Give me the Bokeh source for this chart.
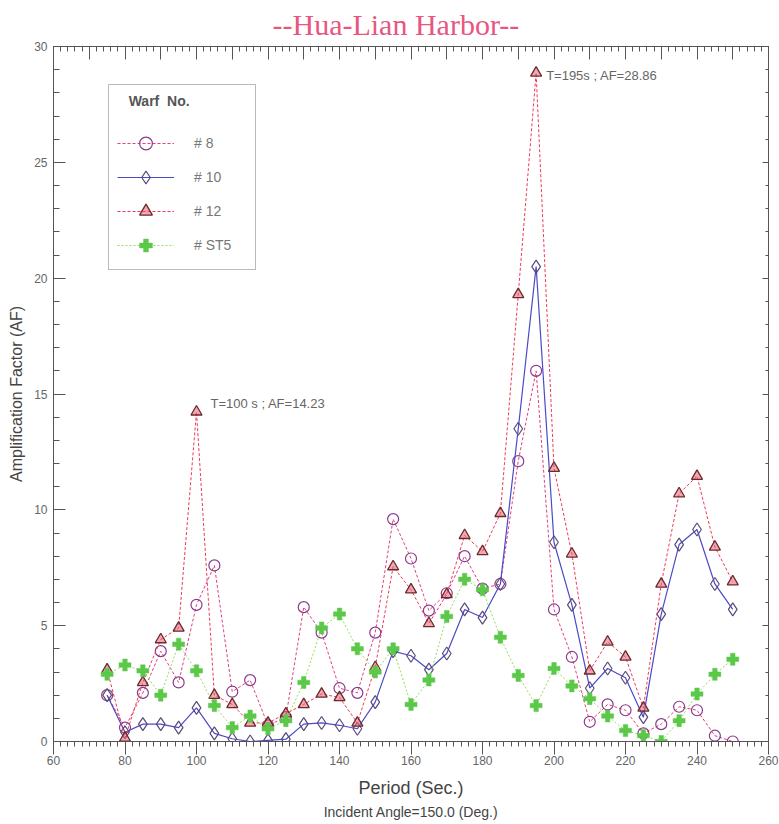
from bokeh.plotting import figure
from bokeh.models import Range1d, LinearAxis, FixedTicker, Legend, LegendItem, Label, Title
from bokeh.embed import file_html
from bokeh.resources import INLINE

# ---------------- data ----------------
periods = [75, 80, 85, 90, 95, 100, 105, 110, 115, 120, 125, 130, 135, 140, 145, 150,
           155, 160, 165, 170, 175, 180, 185, 190, 195, 200, 205, 210, 215, 220, 225,
           230, 235, 240, 245, 250]

af_8 = [2.0, 0.6, 2.1, 3.9, 2.55, 5.9, 7.6, 2.15, 2.65, 0.7, 1.05, 5.8, 4.7, 2.3, 2.1, 4.7,
        9.6, 7.9, 5.65, 6.4, 8.0, 6.6, 6.8, 12.1, 16.0, 5.7, 3.65, 0.85, 1.6, 1.35, 0.35,
        0.75, 1.5, 1.35, 0.25, 0.0]

af_10 = [2.0, 0.4, 0.75, 0.75, 0.6, 1.45, 0.35, 0.12, 0.0, 0.05, 0.1, 0.75, 0.8, 0.7, 0.55, 1.7,
         3.9, 3.7, 3.1, 3.8, 5.7, 5.35, 6.8, 13.5, 20.5, 8.6, 5.9, 2.3, 3.15, 2.75, 1.05,
         5.5, 8.5, 9.15, 6.8, 5.7]

af_12 = [3.1, 0.15, 2.55, 4.4, 4.9, 14.23, 2.0, 1.6, 0.8, 0.8, 1.2, 1.6, 2.05, 1.9, 0.8, 3.2,
         7.55, 6.55, 5.1, 6.35, 8.9, 8.2, 9.85, 19.3, 28.86, 11.8, 8.1, 3.05, 4.3, 3.65, 1.45,
         6.8, 10.7, 11.45, 8.4, 6.9]

af_st5 = [2.9, 3.3, 3.05, 2.0, 4.2, 3.05, 1.55, 0.6, 1.1, 0.55, 0.9, 2.55, 4.9, 5.5, 4.0, 3.0,
          4.0, 1.6, 2.65, 5.4, 7.0, 6.55, 4.5, 2.85, 1.55, 3.15, 2.4, 1.85, 1.1, 0.47, 0.26,
          0.0, 0.9, 2.05, 2.9, 3.55]

series_labels = ["# 8", "# 10", "# 12", "# ST5"]
x_label_ticks = [60, 80, 100, 120, 140, 160, 180, 200, 220, 240, 260]
x_mid_ticks = [70, 90, 110, 130, 150, 170, 190, 210, 230, 250]
y_label_ticks = [0, 5, 10, 15, 20, 25, 30]
ann_periods = [100, 195]
ann_texts = ["T=100 s ; AF=14.23", "T=195s ; AF=28.86"]

TITLE = "--Hua-Lian Harbor--"
SUBTITLE = "Incident Angle=150.0 (Deg.)"

# ---------------- figure ----------------
p = figure(width=779, height=824, x_range=Range1d(60, 260), y_range=Range1d(0, 30),
           output_backend="svg", toolbar_location=None,
           min_border_left=53, min_border_right=11, min_border_top=45, min_border_bottom=83,
           background_fill_color="white", border_fill_color="white")
p.xgrid.visible = False
p.ygrid.visible = False
p.outline_line_color = None

p.title.text = TITLE
p.title.text_font = "Liberation Serif"
p.title.text_font_size = "30px"
p.title.text_font_style = "normal"
p.title.text_color = "#e8567f"
p.title.text_line_height = 1.0
p.title.align = "left"
p.title.offset = 219
p.title.standoff = 11

AX = "#555555"
x_minor = list(range(60, 261, 2))
y_minor = list(range(0, 31, 1))
x_ticker = FixedTicker(ticks=x_label_ticks, minor_ticks=x_minor)
x_ticker_all = FixedTicker(ticks=x_label_ticks + x_mid_ticks, minor_ticks=x_minor)
y_ticker = FixedTicker(ticks=y_label_ticks, minor_ticks=y_minor)

xa = p.xaxis[0]
xa.ticker = x_ticker
xa.major_tick_in = 0
xa.major_tick_out = 13
xa.minor_tick_in = 0
xa.minor_tick_out = 5
xa.major_label_standoff = 1
xa.major_label_text_font = "Liberation Sans"
xa.major_label_text_font_size = "12px"
xa.major_label_text_color = "#666666"
xa.axis_label = "Period (Sec.)"
xa.axis_label_text_font = "Liberation Sans"
xa.axis_label_text_font_size = "18px"
xa.axis_label_text_font_style = "normal"
xa.axis_label_text_color = "#444444"
xa.axis_label_standoff = 10
xa.axis_line_color = AX
xa.major_tick_line_color = AX
xa.minor_tick_line_color = AX

# long ticks at the odd tens (no labels), drawn on the bottom edge
mid = LinearAxis(ticker=FixedTicker(ticks=x_mid_ticks, minor_ticks=[]), fixed_location=0,
                 major_tick_in=0, major_tick_out=13, axis_line_color=None,
                 major_tick_line_color=AX, minor_tick_line_color=None,
                 major_label_text_color=None)
p.add_layout(mid, "below")

ya = p.yaxis[0]
ya.ticker = y_ticker
ya.major_tick_in = 12
ya.major_tick_out = 0
ya.minor_tick_in = 6
ya.minor_tick_out = 0
ya.major_label_standoff = 6
ya.major_label_text_font = "Liberation Sans"
ya.major_label_text_font_size = "12px"
ya.major_label_text_color = "#666666"
ya.axis_label = "Amplification Factor (AF)"
ya.axis_label_text_font = "Liberation Sans"
ya.axis_label_text_font_size = "16px"
ya.axis_label_text_font_style = "normal"
ya.axis_label_text_color = "#444444"
ya.axis_label_standoff = 6
ya.axis_line_color = AX
ya.major_tick_line_color = AX
ya.minor_tick_line_color = AX

top = LinearAxis(ticker=x_ticker_all, major_tick_in=13, major_tick_out=0, minor_tick_in=5,
                 minor_tick_out=0, major_label_text_color=None,
                 axis_line_color=AX, major_tick_line_color=AX, minor_tick_line_color=AX)
p.add_layout(top, "above")
right = LinearAxis(ticker=y_ticker, major_tick_in=6, major_tick_out=0, minor_tick_in=3,
                   minor_tick_out=0, major_label_text_color=None,
                   axis_line_color=AX, major_tick_line_color=AX, minor_tick_line_color=AX)
p.add_layout(right, "right")

p.add_layout(Title(text=SUBTITLE, text_font="Liberation Sans", text_font_size="14px",
                   text_font_style="normal", text_color="#444444", align="center",
                   standoff=2), "below")

# ---------------- series ----------------
l8 = p.line(periods, af_8, line_color="#e0407f", line_width=1, line_dash="3 2")
s8 = p.scatter(periods, af_8, marker="circle", size=11, line_color="#8a3a8a",
               fill_color=None, line_width=1.2)

l10 = p.line(periods, af_10, line_color="#4a4ac8", line_width=1.2)
s10 = p.scatter(periods, af_10, marker="diamond", size=13, line_color="#5a4a7a",
                fill_color=None, line_width=1.2)

l12 = p.line(periods, af_12, line_color="#ee3a5a", line_width=1, line_dash="3 2")
s12 = p.scatter(periods, af_12, marker="triangle", size=11, line_color="#6b2b2b",
                fill_color="#e8506a", fill_alpha=0.5, line_width=1.3)

lst = p.line(periods, af_st5, line_color="#8ee05a", line_width=1, line_dash="2 2")
sst = p.scatter(periods, af_st5, marker="plus", size=12, line_color="#5cc84a",
                fill_color="#5cc84a", line_width=0.5)

# ---------------- annotations ----------------
offsets = [(14, 8), (10, -3)]
for T, txt, (dx, dy) in zip(ann_periods, ann_texts, offsets):
    af = af_12[periods.index(T)]
    p.add_layout(Label(x=T, y=af, text=txt, x_offset=dx, y_offset=dy,
                       text_baseline="middle", text_font="Liberation Sans",
                       text_font_size="13px", text_color="#666666"))

# ---------------- legend ----------------
items = [LegendItem(label=series_labels[0], renderers=[l8, s8]),
         LegendItem(label=series_labels[1], renderers=[l10, s10]),
         LegendItem(label=series_labels[2], renderers=[l12, s12]),
         LegendItem(label=series_labels[3], renderers=[lst, sst])]
legend = Legend(items=items, location=(55, 471),
                title="\u00a0\u00a0\u00a0Warf\u00a0\u00a0No.",
                title_text_font="Liberation Sans", title_text_font_style="bold",
                title_text_font_size="14px", title_text_color="#555555", title_standoff=18,
                label_text_font="Liberation Sans", label_text_font_size="14px",
                label_text_color="#777777", glyph_width=57, glyph_height=32,
                label_standoff=20, label_width=53, spacing=2, padding=8, margin=0,
                border_line_color="#777777", border_line_width=1.5,
                background_fill_color="white", background_fill_alpha=1.0)
p.add_layout(legend)

open("out.html", "w").write(file_html(p, INLINE))
